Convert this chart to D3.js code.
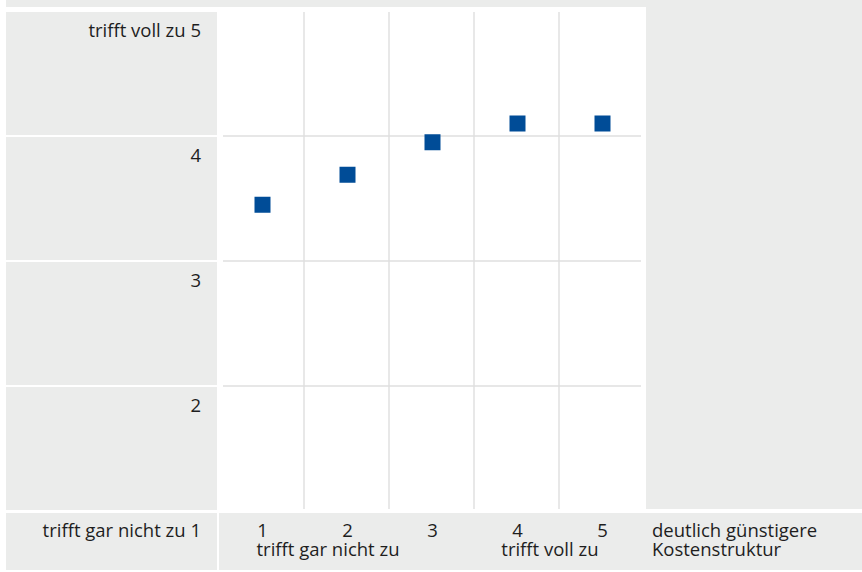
<!DOCTYPE html>
<html>
<head>
<meta charset="utf-8">
<script src="https://cdn.jsdelivr.net/npm/d3@7"></script>
<style>
  body { margin: 0; background: #fff; }
  text { font-family: "Open Sans", "Noto Sans", sans-serif; font-size: 18.5px; fill: #1e1e1e; }
</style>
</head>
<body>
<div class="content"></div>
<script>
// chart data
var categories = [1, 2, 3, 4, 5];
var values = [3.45, 3.69, 3.95, 4.10, 4.10];
var yTicks = [5, 4, 3, 2, 1];
var yTickLabels = ["trifft voll zu 5", "4", "3", "2", "trifft gar nicht zu 1"];
var xTickLabels = ["1", "2", "3", "4", "5"];
var xSubLabels = ["trifft gar nicht zu", "trifft voll zu"];
var xTitle = ["deutlich günstigere", "Kostenstruktur"];

// SVG area
var svgWidth = 862;
var svgHeight = 572;
var grey = "#ebeceb";

var svg = d3.select(".content")
  .append("svg")
  .attr("width", svgWidth)
  .attr("height", svgHeight);

// scales
var xScale = d3.scaleBand()
  .domain(categories)
  .range([219, 644]);

var yScale = d3.scaleLinear()
  .domain([1, 5])
  .range([511, 11]);

// background panels
svg.append("rect").attr("x", 6).attr("y", 0).attr("width", svgWidth - 6).attr("height", 7).attr("fill", grey);
svg.append("rect").attr("x", 646).attr("y", 0).attr("width", svgWidth - 646).attr("height", 509).attr("fill", grey);

// left cells, one per y tick band
var bands = yTicks.slice(0, 4);
svg.selectAll(".ycell")
  .data(bands)
  .enter()
  .append("rect")
  .attr("class", "ycell")
  .attr("x", 6)
  .attr("width", 211)
  .attr("y", d => yScale(d) + 1)
  .attr("height", d => yScale(d - 1) - yScale(d) - 2)
  .attr("fill", grey);

// bottom row
svg.append("rect").attr("x", 6).attr("y", 513).attr("width", 211).attr("height", 57).attr("fill", grey);
svg.append("rect").attr("x", 219).attr("y", 513).attr("width", svgWidth - 219).attr("height", 57).attr("fill", grey);

// grid lines
svg.selectAll(".hgrid")
  .data([4, 3, 2])
  .enter()
  .append("line")
  .attr("x1", 223)
  .attr("x2", 641)
  .attr("y1", d => yScale(d))
  .attr("y2", d => yScale(d))
  .attr("stroke", "#dfdfdf")
  .attr("stroke-width", 1.6);

svg.selectAll(".vgrid")
  .data(categories.slice(1))
  .enter()
  .append("line")
  .attr("x1", d => xScale(d))
  .attr("x2", d => xScale(d))
  .attr("y1", 12)
  .attr("y2", 509)
  .attr("stroke", "#dfdfdf")
  .attr("stroke-width", 1.4);

// y labels
svg.selectAll(".ylabel")
  .data(yTicks)
  .enter()
  .append("text")
  .attr("x", 201)
  .attr("y", d => d === 1 ? 537 : yScale(d) + 26)
  .attr("text-anchor", "end")
  .text((d, i) => yTickLabels[i]);

// x labels
svg.selectAll(".xlabel")
  .data(categories)
  .enter()
  .append("text")
  .attr("x", d => xScale(d) + xScale.bandwidth() / 2 + 1)
  .attr("y", 537)
  .attr("text-anchor", "middle")
  .text((d, i) => xTickLabels[i]);

svg.append("text")
  .attr("x", xScale(1) + xScale.bandwidth() / 2 - 5)
  .attr("y", 556)
  .text(xSubLabels[0]);

svg.append("text")
  .attr("x", xScale(5) + xScale.bandwidth() / 2 - 3)
  .attr("y", 556)
  .attr("text-anchor", "end")
  .text(xSubLabels[1]);

svg.selectAll(".xtitle")
  .data(xTitle)
  .enter()
  .append("text")
  .attr("x", 652)
  .attr("y", (d, i) => 537 + i * 19)
  .text(d => d);

// points
var size = 16;
svg.selectAll(".point")
  .data(values)
  .enter()
  .append("rect")
  .attr("x", (d, i) => xScale(categories[i]) + xScale.bandwidth() / 2 - size / 2 + 1)
  .attr("y", d => yScale(d) - size / 2)
  .attr("width", size)
  .attr("height", size)
  .attr("fill", "#004c97");
</script>
</body>
</html>
